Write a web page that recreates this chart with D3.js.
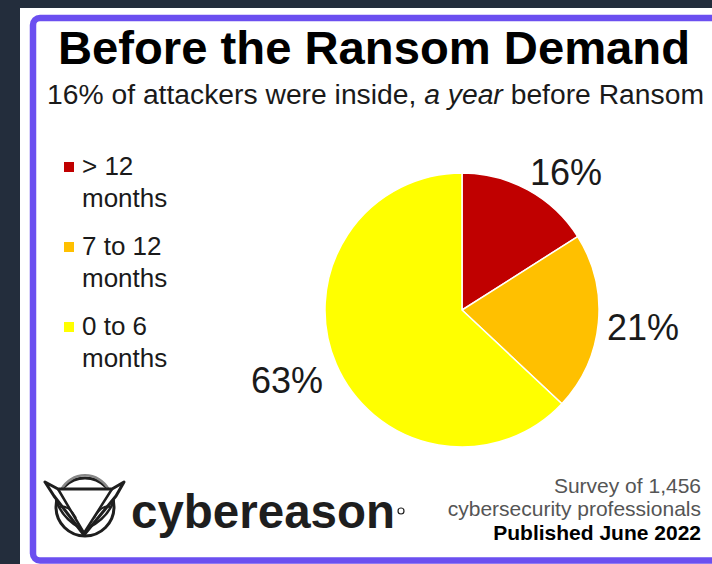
<!DOCTYPE html>
<html>
<head>
<meta charset="utf-8">
<script src="https://cdn.jsdelivr.net/npm/d3@7"></script>
<style>
  html, body { margin: 0; padding: 0; background: #232d3c; }
  svg { display: block; }
  text { font-family: "Liberation Sans", Arial, sans-serif; }
</style>
</head>
<body>
<svg id="chart" width="712" height="564"></svg>
<script>
// ---- data ----
const categories = ["> 12 months", "7 to 12 months", "0 to 6 months"];
const legendLine1 = ["> 12", "7 to 12", "0 to 6"];
const legendLine2 = ["months", "months", "months"];
const values = [16, 21, 63];
const valueLabels = ["16%", "21%", "63%"];
const colors = ["#c00000", "#ffc000", "#ffff00"];
const titleText = "Before the Ransom Demand";
const footerLines = ["Survey of 1,456", "cybersecurity professionals", "Published June 2022"];

const svg = d3.select("#chart");
const W = 712, H = 564;

// background panels
svg.append("rect").attr("x", 0).attr("y", 0).attr("width", W).attr("height", H).attr("fill", "#232d3c");
svg.append("rect").attr("x", 20).attr("y", 8).attr("width", W - 20).attr("height", H - 8).attr("fill", "#ffffff");
svg.append("rect").attr("x", 33).attr("y", 18).attr("width", 720).attr("height", 542.5)
  .attr("rx", 7).attr("fill", "#ffffff").attr("stroke", "#6b4ff0").attr("stroke-width", 6.5);

// title
svg.append("text").attr("x", 58).attr("y", 64)
  .attr("font-size", 46).attr("font-weight", "bold").attr("fill", "#000")
  .attr("textLength", 632).attr("lengthAdjust", "spacingAndGlyphs")
  .text(titleText);

// subtitle
const sub = svg.append("text").attr("x", 47).attr("y", 104)
  .attr("font-size", 27).attr("fill", "#1a1a1a")
  .attr("textLength", 657).attr("lengthAdjust", "spacingAndGlyphs");
sub.append("tspan").text("16% of attackers were inside, ");
sub.append("tspan").attr("font-style", "italic").text("a year");
sub.append("tspan").text(" before Ransom");

// pie
const cx = 462, cy = 310, R = 137;
const pie = d3.pie().sort(null).value(d => d)(values);
const arc = d3.arc().innerRadius(0).outerRadius(R);
const g = svg.append("g").attr("transform", `translate(${cx},${cy})`);
g.selectAll("path").data(pie).join("path")
  .attr("d", arc)
  .attr("fill", (d, i) => colors[i])
  .attr("stroke", "#ffffff").attr("stroke-width", 1.5);

// value labels outside each slice
const labelX = [68, R + 8, -R - 2];
const labelY = [-125, 30, 83];
g.selectAll("text.val").data(pie).join("text").attr("class", "val")
  .attr("font-size", 36).attr("fill", "#1a1a1a")
  .attr("text-anchor", (d, i) => i === 2 ? "end" : "start")
  .attr("x", (d, i) => labelX[i])
  .attr("y", (d, i) => labelY[i])
  .text((d, i) => valueLabels[i]);

// legend
const legend = svg.append("g");
const legY = d3.scalePoint().domain(categories).range([175, 335]);
categories.forEach((c, i) => {
  const y = legY(c);
  legend.append("rect").attr("x", 64).attr("y", y - 13).attr("width", 10).attr("height", 10).attr("fill", colors[i]);
  legend.append("text").attr("x", 82).attr("y", y).attr("font-size", 26).attr("fill", "#1a1a1a").text(legendLine1[i]);
  legend.append("text").attr("x", 82).attr("y", y + 32).attr("font-size", 26).attr("fill", "#1a1a1a").text(legendLine2[i]);
});

// footer
const fy = [493, 516, 540];
footerLines.forEach((t, i) => {
  svg.append("text").attr("x", 701).attr("y", fy[i]).attr("text-anchor", "end")
    .attr("font-size", 21)
    .attr("font-weight", i === 2 ? "bold" : "normal")
    .attr("fill", i === 2 ? "#000" : "#555")
    .text(t);
});

// logo: owl icon
const owl = svg.append("g").attr("fill", "none").attr("stroke", "#1e1e1e").attr("stroke-linejoin", "round");
owl.append("circle").attr("cx", 85).attr("cy", 507).attr("r", 29).attr("stroke-width", 3);
owl.append("path").attr("d", "M61,490 A27,27 0 0 1 109,490").attr("stroke-width", 2.5).attr("stroke", "#888");
owl.append("path").attr("d", "M45,482 L58,489 L112,489 L124,482 L116,496 L84,535 L54,496 Z").attr("fill", "#fff").attr("stroke-width", 3);
owl.append("path").attr("d", "M58,489 L84,533 L112,489").attr("stroke-width", 2.5);
owl.append("path").attr("d", "M56,500 Q62,518 80,528").attr("stroke-width", 2.5);
owl.append("path").attr("d", "M114,500 Q108,518 88,528").attr("stroke-width", 2.5);
owl.append("path").attr("d", "M60,507 Q68,504 76,518").attr("stroke-width", 2);
owl.append("path").attr("d", "M110,507 Q102,504 94,518").attr("stroke-width", 2);

svg.append("text").attr("x", 131).attr("y", 528)
  .attr("font-family", "'DejaVu Sans', sans-serif")
  .attr("font-size", 48).attr("font-weight", "bold").attr("fill", "#1e1e1e")
  .attr("textLength", 264).attr("lengthAdjust", "spacingAndGlyphs")
  .text("cybereason");
svg.append("circle").attr("cx", 401).attr("cy", 511).attr("r", 3).attr("fill", "none").attr("stroke", "#1e1e1e").attr("stroke-width", 1.2);
</script>
</body>
</html>
